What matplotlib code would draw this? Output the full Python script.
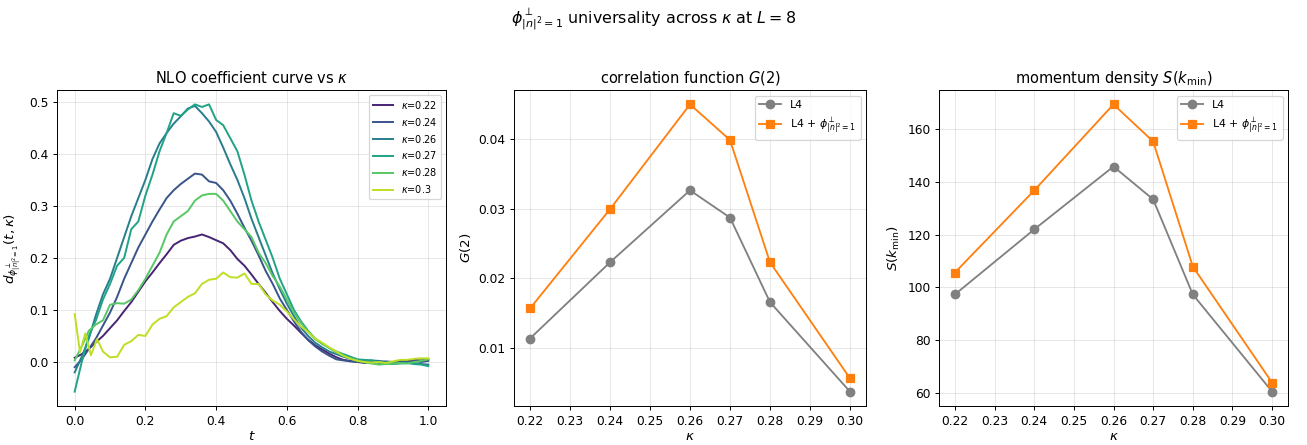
import matplotlib
matplotlib.use("Agg")
import matplotlib.pyplot as plt
import numpy as np

# ---- data ----
kappas = [0.22, 0.24, 0.26, 0.27, 0.28, 0.30]
kappa_labels = ["0.22", "0.24", "0.26", "0.27", "0.28", "0.3"]

t = [0.00, 0.02, 0.04, 0.06, 0.08, 0.10, 0.12, 0.14, 0.16, 0.18,
     0.20, 0.22, 0.24, 0.26, 0.28, 0.30, 0.32, 0.34, 0.36, 0.38,
     0.40, 0.42, 0.44, 0.46, 0.48, 0.50, 0.52, 0.54, 0.56, 0.58,
     0.60, 0.62, 0.64, 0.66, 0.68, 0.70, 0.72, 0.74, 0.76, 0.78,
     0.80, 0.82, 0.84, 0.86, 0.88, 0.90, 0.92, 0.94, 0.96, 0.98, 1.00]

d_022 = [0.008, 0.015, 0.025, 0.038, 0.050, 0.065, 0.080, 0.098, 0.115, 0.135,
         0.155, 0.172, 0.190, 0.207, 0.225, 0.233, 0.238, 0.241, 0.245, 0.240,
         0.234, 0.228, 0.215, 0.198, 0.185, 0.168, 0.150, 0.133, 0.115, 0.098,
         0.083, 0.070, 0.056, 0.043, 0.032, 0.024, 0.016, 0.009, 0.004, 0.002,
         0.000, -0.002, 0.000, 0.001, -0.001, 0.000, 0.002, 0.003, 0.004, 0.003, 0.005]
d_024 = [-0.010, 0.005, 0.025, 0.045, 0.070, 0.095, 0.125, 0.160, 0.190, 0.220,
         0.245, 0.270, 0.293, 0.315, 0.330, 0.342, 0.352, 0.362, 0.360, 0.347,
         0.344, 0.330, 0.310, 0.285, 0.258, 0.233, 0.205, 0.175, 0.150, 0.122,
         0.100, 0.078, 0.058, 0.042, 0.030, 0.020, 0.012, 0.005, 0.003, 0.001,
         0.000, 0.000, 0.001, 0.000, 0.001, 0.000, 0.001, 0.000, 0.002, 0.000, 0.002]
d_026 = [-0.020, 0.010, 0.045, 0.090, 0.130, 0.160, 0.200, 0.240, 0.280, 0.315,
         0.350, 0.390, 0.420, 0.440, 0.458, 0.472, 0.487, 0.492, 0.478, 0.462,
         0.442, 0.412, 0.380, 0.350, 0.315, 0.275, 0.240, 0.205, 0.170, 0.140,
         0.112, 0.088, 0.066, 0.050, 0.037, 0.028, 0.020, 0.015, 0.010, 0.006,
         0.003, 0.002, 0.003, 0.002, 0.000, 0.000, -0.002, -0.001, -0.003, -0.004, -0.005]
d_027 = [-0.057, 0.000, 0.050, 0.080, 0.120, 0.150, 0.185, 0.200, 0.255, 0.270,
         0.320, 0.360, 0.405, 0.440, 0.478, 0.473, 0.485, 0.495, 0.490, 0.495,
         0.465, 0.455, 0.430, 0.405, 0.360, 0.310, 0.270, 0.235, 0.200, 0.160,
         0.130, 0.100, 0.078, 0.060, 0.045, 0.035, 0.027, 0.020, 0.015, 0.010,
         0.005, 0.004, 0.003, -0.002, -0.003, -0.004, -0.003, -0.002, -0.004, -0.005, -0.008]
d_028 = [0.003, 0.030, 0.060, 0.072, 0.080, 0.110, 0.113, 0.112, 0.120, 0.138,
         0.160, 0.185, 0.210, 0.245, 0.270, 0.280, 0.290, 0.310, 0.320, 0.323,
         0.323, 0.310, 0.290, 0.270, 0.255, 0.240, 0.210, 0.190, 0.165, 0.145,
         0.120, 0.095, 0.075, 0.058, 0.044, 0.035, 0.027, 0.018, 0.012, 0.007,
         0.003, -0.001, -0.003, -0.005, -0.004, -0.003, -0.002, -0.003, 0.000, 0.002, 0.005]

t_030 = [0.000, 0.015, 0.030, 0.046, 0.063, 0.080, 0.10, 0.12, 0.14, 0.16, 0.18,
         0.20, 0.22, 0.24, 0.26, 0.28, 0.30, 0.32, 0.34, 0.36, 0.38,
         0.40, 0.42, 0.44, 0.46, 0.48, 0.50, 0.52, 0.54, 0.56, 0.58,
         0.60, 0.62, 0.64, 0.66, 0.68, 0.70, 0.72, 0.74, 0.76, 0.78,
         0.80, 0.82, 0.84, 0.86, 0.88, 0.90, 0.92, 0.94, 0.96, 0.98, 1.00]
d_030 = [0.092, 0.019, 0.055, 0.013, 0.044, 0.020, 0.009, 0.010, 0.033, 0.040, 0.052,
         0.050, 0.072, 0.083, 0.088, 0.105, 0.115, 0.125, 0.132, 0.150, 0.158,
         0.160, 0.172, 0.163, 0.162, 0.170, 0.150, 0.150, 0.130, 0.118, 0.110,
         0.097, 0.082, 0.068, 0.058, 0.045, 0.037, 0.028, 0.020, 0.012, 0.006,
         0.002, 0.000, -0.001, 0.000, -0.002, 0.001, 0.004, 0.004, 0.006, 0.007, 0.007]

G2_L4 = [0.0114, 0.0223, 0.0326, 0.0287, 0.0166, 0.0038]
G2_L4phi = [0.0157, 0.0299, 0.0449, 0.0398, 0.0223, 0.0057]
S_L4 = [97.3, 122.0, 145.9, 133.4, 97.3, 60.4]
S_L4phi = [105.6, 136.8, 169.5, 155.4, 107.9, 63.8]

phi = r"$\phi^{\perp}_{|n|^2=1}$"

curves = [(t, d_022), (t, d_024), (t, d_026), (t, d_027), (t, d_028), (t_030, d_030)]
colors = plt.cm.viridis(np.linspace(0.1, 0.9, len(kappas)))

DPI = 88
fig = plt.figure(figsize=(1307 / DPI, 445 / DPI), dpi=DPI)
ax1 = fig.add_axes([57 / 1307, 1 - 406 / 445, 389 / 1307, 316 / 445])
ax2 = fig.add_axes([514 / 1307, 1 - 406 / 445, 352 / 1307, 316 / 445])
ax3 = fig.add_axes([939 / 1307, 1 - 406 / 445, 349 / 1307, 316 / 445])

for (tt, dd), lab, c in zip(curves, kappa_labels, colors):
    ax1.plot(tt, dd, color=c, lw=1.6, label=r"$\kappa$=" + lab)
ax1.set_title(r"NLO coefficient curve vs $\kappa$")
ax1.set_xlabel(r"$t$", fontsize=11, labelpad=2)
ax1.set_ylabel(r"$d_{\phi^{\perp}_{|n|^2=1}}(t,\kappa)$", fontsize=11)
ax1.legend(fontsize=8, loc="upper right")
ax1.grid(alpha=0.3)

ax2.plot(kappas, G2_L4, "o-", color="gray", ms=7, lw=1.5, label="L4")
ax2.plot(kappas, G2_L4phi, "s-", color="tab:orange", ms=7, lw=1.5, label="L4 + " + phi)
ax2.set_title(r"correlation function $G(2)$")
ax2.set_xlabel(r"$\kappa$", fontsize=11, labelpad=2)
ax2.set_ylabel(r"$G(2)$", fontsize=11)
ax2.legend(fontsize=9, loc="upper right")
ax2.grid(alpha=0.3)

ax3.plot(kappas, S_L4, "o-", color="gray", ms=7, lw=1.5, label="L4")
ax3.plot(kappas, S_L4phi, "s-", color="tab:orange", ms=7, lw=1.5, label="L4 + " + phi)
ax3.set_title(r"momentum density $S(k_{\min})$")
ax3.set_xlabel(r"$\kappa$", fontsize=11, labelpad=2)
ax3.set_ylabel(r"$S(k_{\min})$", fontsize=11)
ax3.legend(fontsize=9, loc="upper right")
ax3.grid(alpha=0.3)

for ax in (ax2, ax3):
    ax.set_xticks([0.22, 0.23, 0.24, 0.25, 0.26, 0.27, 0.28, 0.29, 0.30])
    ax.set_xticklabels(["0.22", "0.23", "0.24", "0.25", "0.26", "0.27", "0.28", "0.29", "0.30"])

fig.suptitle(phi + r" universality across $\kappa$ at $L=8$", fontsize=13, y=0.985)
fig.savefig("out.png", dpi=DPI)
